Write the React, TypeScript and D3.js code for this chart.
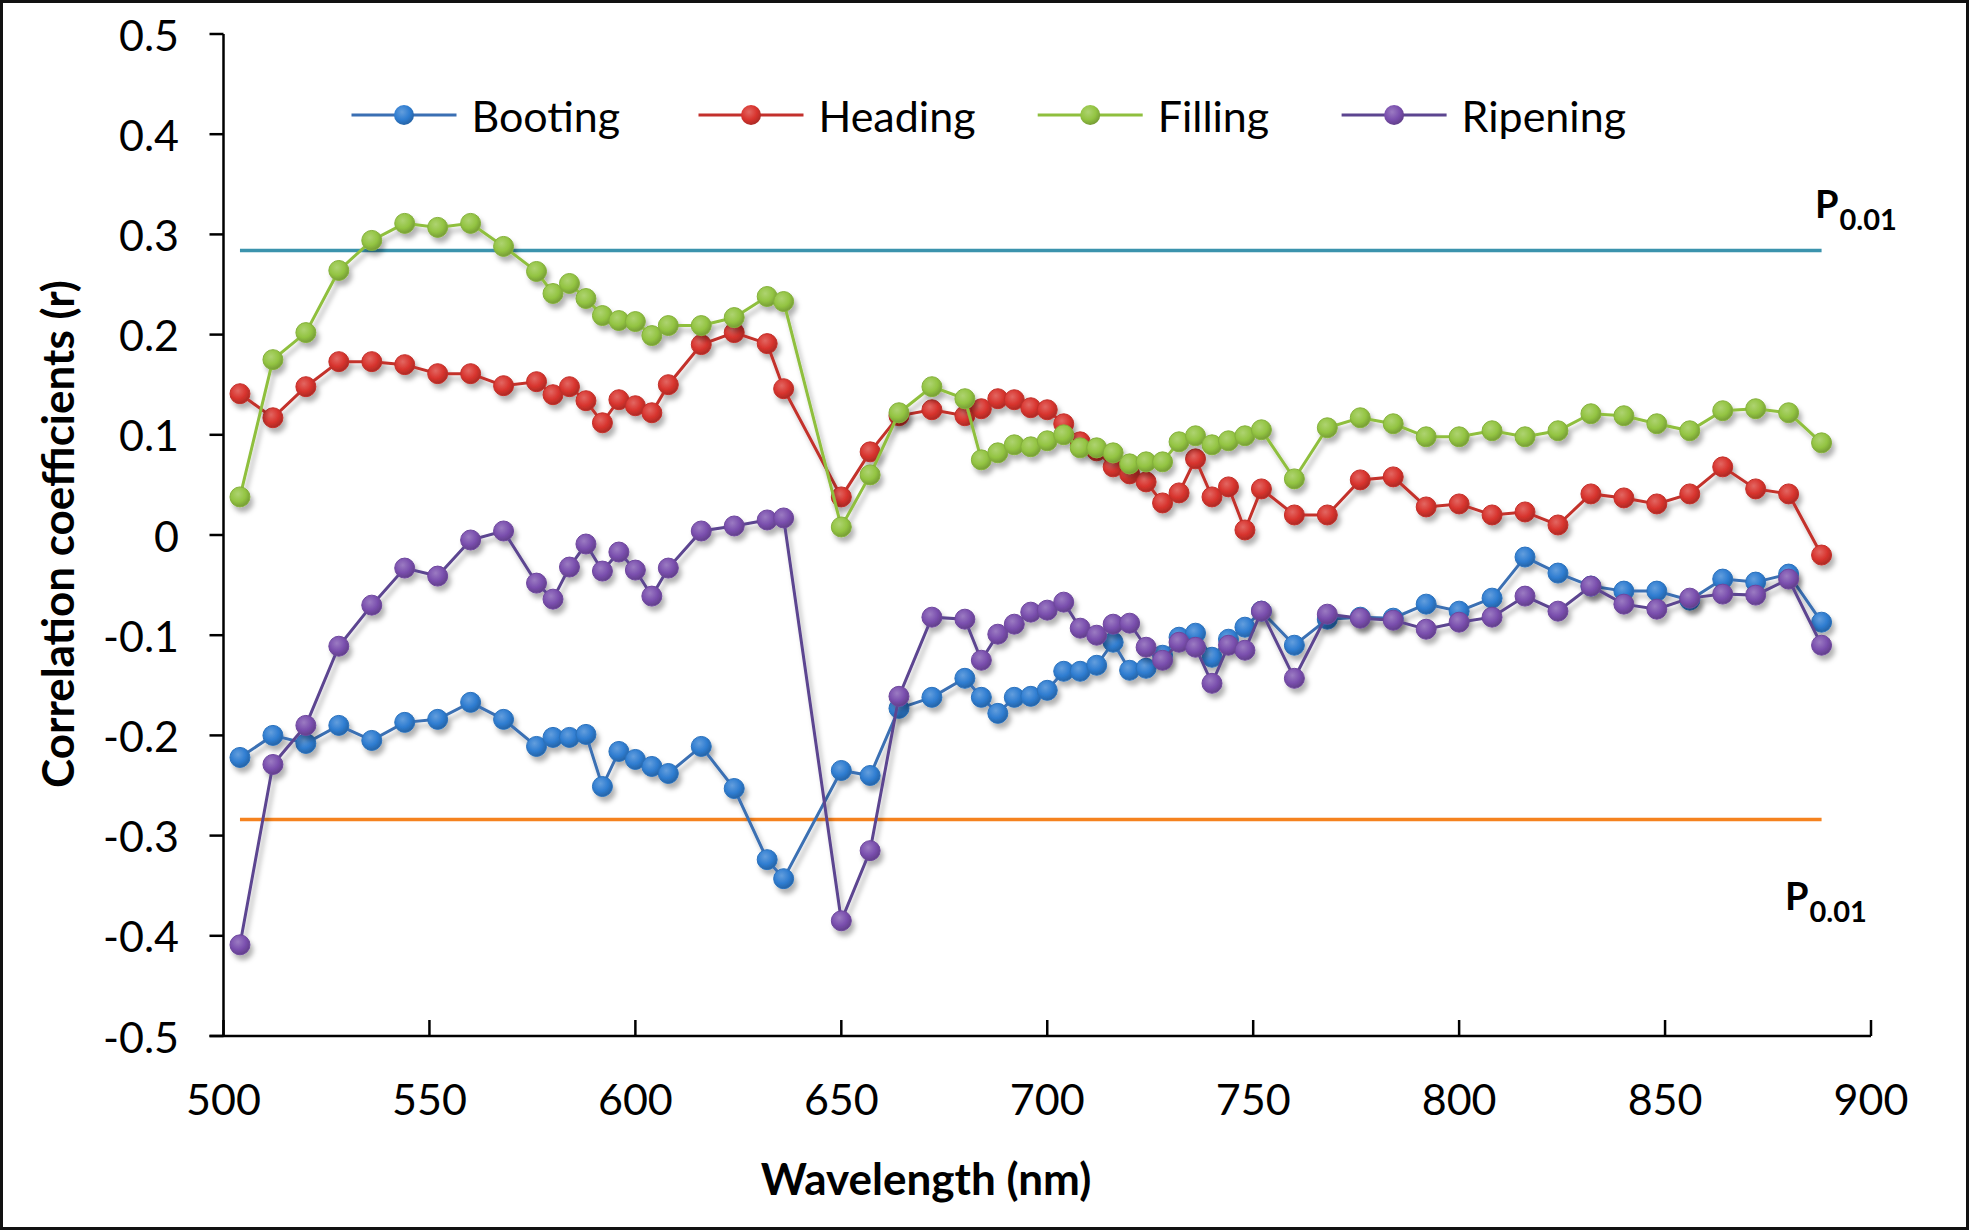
import React from 'react';
import * as d3 from 'd3';

const wavelengths = [504, 512, 520, 528, 536, 544, 552, 560, 568, 576, 580, 584, 588, 592, 596, 600, 604, 608, 616, 624, 632, 636, 650, 657, 664, 672, 680, 684, 688, 692, 696, 700, 704, 708, 712, 716, 720, 724, 728, 732, 736, 740, 744, 748, 752, 760, 768, 776, 784, 792, 800, 808, 816, 824, 832, 840, 848, 856, 864, 872, 880, 888];

const booting = [-0.222, -0.2, -0.208, -0.19, -0.205, -0.187, -0.184, -0.167, -0.184, -0.211, -0.202, -0.202, -0.199, -0.251, -0.216, -0.224, -0.231, -0.238, -0.211, -0.253, -0.324, -0.343, -0.235, -0.24, -0.173, -0.162, -0.143, -0.162, -0.178, -0.162, -0.161, -0.155, -0.136, -0.136, -0.13, -0.107, -0.135, -0.133, -0.12, -0.102, -0.098, -0.122, -0.104, -0.092, -0.076, -0.11, -0.084, -0.082, -0.083, -0.069, -0.076, -0.063, -0.022, -0.038, -0.051, -0.056, -0.056, -0.065, -0.044, -0.047, -0.039, -0.087];

const heading = [0.141, 0.117, 0.148, 0.173, 0.173, 0.17, 0.161, 0.161, 0.149, 0.153, 0.14, 0.148, 0.134, 0.112, 0.135, 0.129, 0.122, 0.15, 0.19, 0.202, 0.191, 0.146, 0.038, 0.083, 0.119, 0.125, 0.119, 0.126, 0.136, 0.135, 0.127, 0.125, 0.111, 0.093, 0.084, 0.068, 0.061, 0.053, 0.032, 0.042, 0.076, 0.038, 0.048, 0.005, 0.046, 0.02, 0.02, 0.055, 0.058, 0.028, 0.031, 0.02, 0.023, 0.01, 0.041, 0.037, 0.031, 0.041, 0.068, 0.046, 0.041, -0.02];

const filling = [0.038, 0.175, 0.202, 0.264, 0.294, 0.311, 0.307, 0.311, 0.288, 0.263, 0.241, 0.251, 0.236, 0.219, 0.214, 0.213, 0.199, 0.209, 0.209, 0.217, 0.238, 0.233, 0.008, 0.06, 0.122, 0.148, 0.136, 0.075, 0.082, 0.09, 0.088, 0.094, 0.1, 0.087, 0.087, 0.082, 0.071, 0.073, 0.073, 0.093, 0.099, 0.09, 0.094, 0.099, 0.105, 0.056, 0.107, 0.117, 0.111, 0.098, 0.098, 0.104, 0.098, 0.104, 0.121, 0.119, 0.111, 0.104, 0.124, 0.126, 0.122, 0.092];

const ripening = [-0.409, -0.229, -0.19, -0.111, -0.07, -0.033, -0.041, -0.005, 0.004, -0.048, -0.064, -0.032, -0.009, -0.036, -0.017, -0.035, -0.061, -0.033, 0.004, 0.009, 0.015, 0.017, -0.385, -0.315, -0.161, -0.082, -0.084, -0.125, -0.099, -0.089, -0.077, -0.075, -0.067, -0.093, -0.1, -0.089, -0.088, -0.112, -0.125, -0.107, -0.112, -0.148, -0.11, -0.115, -0.076, -0.143, -0.079, -0.083, -0.085, -0.094, -0.087, -0.082, -0.061, -0.076, -0.051, -0.069, -0.074, -0.063, -0.059, -0.06, -0.044, -0.11];

const seriesNames = ['Booting', 'Heading', 'Filling', 'Ripening'];
const seriesValues = [booting, heading, filling, ripening];
const lineColors = ['#3a6fb3', '#c3302c', '#8fbf3e', '#5c4590'];
const markerColors = ['#2f7dd1', '#d8342e', '#93c442', '#7a4fae'];

const yTicks = [-0.5, -0.4, -0.3, -0.2, -0.1, 0, 0.1, 0.2, 0.3, 0.4, 0.5];
const yTickLabels = ['-0.5', '-0.4', '-0.3', '-0.2', '-0.1', '0', '0.1', '0.2', '0.3', '0.4', '0.5'];
const xTicks = [500, 550, 600, 650, 700, 750, 800, 850, 900];
const pThreshold = 0.284;

const FONT = 'Lato, "Open Sans", sans-serif';

export default function App() {
  const W = 1969;
  const H = 1230;
  const x = d3.scaleLinear().domain([500, 900]).range([223.5, 1871]);
  const y = d3.scaleLinear().domain([-0.5, 0.5]).range([1036, 34]);
  const line = d3
    .line<[number, number]>()
    .x((d) => x(d[0]))
    .y((d) => y(d[1]));

  const legendX = [351.5, 698.5, 1037.7, 1341.6];
  const legendY = 115;

  const xStart = x(wavelengths[0]);
  const xEnd = x(wavelengths[wavelengths.length - 1]);

  return (
    <svg
      width={W}
      height={H}
      viewBox={`0 0 ${W} ${H}`}
      style={{ position: 'absolute', left: 0, top: 0, background: '#fff' }}
    >
      <defs>
        <filter id="shadow" x="-20%" y="-20%" width="140%" height="140%">
          <feDropShadow dx="3" dy="5" stdDeviation="2.5" floodColor="#000" floodOpacity="0.3" />
        </filter>
        <filter id="lineShadow" x="-5%" y="-200%" width="110%" height="500%">
          <feGaussianBlur stdDeviation="2" />
        </filter>
        {markerColors.map((c, i) => (
          <radialGradient key={i} id={`mg${i}`} cx="40%" cy="35%" r="65%">
            <stop offset="0%" stopColor={d3.interpolateRgb(c, '#ffffff')(0.25)} />
            <stop offset="60%" stopColor={c} />
            <stop offset="100%" stopColor={d3.interpolateRgb(c, '#000000')(0.2)} />
          </radialGradient>
        ))}
      </defs>
      <rect x={0} y={0} width={W} height={H} fill="#fff" />
      <rect x={1.5} y={1.5} width={W - 3} height={H - 3} fill="none" stroke="#111" strokeWidth={3} />

      {/* threshold lines */}
      {[pThreshold, -pThreshold].map((v, i) => (
        <g key={i}>
          <line
            x1={xStart}
            x2={xEnd}
            y1={y(v) + 9}
            y2={y(v) + 9}
            stroke="#c8c8c8"
            strokeWidth={7}
            filter="url(#lineShadow)"
            opacity={0.8}
          />
          <line
            x1={xStart}
            x2={xEnd}
            y1={y(v)}
            y2={y(v)}
            stroke={i === 0 ? '#3b93ad' : '#f5821f'}
            strokeWidth={3.5}
          />
        </g>
      ))}

      {/* series */}
      {seriesValues.map((vals, si) => {
        const pts = wavelengths.map((w, k) => [w, vals[k]] as [number, number]);
        return (
          <g key={si} filter="url(#shadow)">
            <path d={line(pts) || ''} fill="none" stroke={lineColors[si]} strokeWidth={3} />
            {pts.map((p, k) => (
              <circle
                key={k}
                cx={x(p[0])}
                cy={y(p[1])}
                r={10}
                fill={`url(#mg${si})`}
                stroke={d3.interpolateRgb(markerColors[si], '#000')(0.1)}
                strokeWidth={1}
              />
            ))}
          </g>
        );
      })}

      {/* axes */}
      <line x1={x(500)} x2={x(500)} y1={y(0.5)} y2={y(-0.5)} stroke="#000" strokeWidth={2.5} />
      <line x1={x(500) - 14} x2={x(900)} y1={y(-0.5)} y2={y(-0.5)} stroke="#000" strokeWidth={2.5} />
      {yTicks.map((t, i) => (
        <g key={t}>
          <line x1={x(500) - 14} x2={x(500)} y1={y(t)} y2={y(t)} stroke="#000" strokeWidth={2.5} />
          <text
            x={179}
            y={y(t)}
            textAnchor="end"
            dominantBaseline="central"
            fontFamily={FONT}
            fontSize={43}
            fill="#000"
          >
            {yTickLabels[i]}
          </text>
        </g>
      ))}
      {xTicks.map((t) => (
        <g key={t}>
          <line x1={x(t)} x2={x(t)} y1={y(-0.5)} y2={y(-0.5) - 16} stroke="#000" strokeWidth={2.5} />
          <text x={x(t)} y={1115} textAnchor="middle" fontFamily={FONT} fontSize={43} fill="#000">
            {t}
          </text>
        </g>
      ))}

      {/* axis titles */}
      <text x={926} y={1195} textAnchor="middle" fontFamily={FONT} fontWeight="bold" fontSize={44} fill="#000">
        Wavelength (nm)
      </text>
      <text
        transform={`translate(57, ${534}) rotate(-90)`}
        textAnchor="middle"
        dominantBaseline="central"
        fontFamily={FONT}
        fontWeight="bold"
        fontSize={44}
        fill="#000"
      >
        Correlation coefficients (r)
      </text>

      {/* legend */}
      {seriesNames.map((n, i) => (
        <g key={n}>
          <line
            x1={legendX[i]}
            x2={legendX[i] + 105}
            y1={legendY}
            y2={legendY}
            stroke={lineColors[i]}
            strokeWidth={3}
          />
          <circle cx={legendX[i] + 52.5} cy={legendY} r={10} fill={`url(#mg${i})`} />
          <text
            x={legendX[i] + 120}
            y={legendY}
            dominantBaseline="central"
            fontFamily={FONT}
            fontSize={43}
            fill="#000"
          >
            {n}
          </text>
        </g>
      ))}

      {/* P labels */}
      <text x={1815} y={218} fontFamily={FONT} fontWeight="bold" fontSize={38} fill="#000">
        P
        <tspan dx={1} dy={12} fontSize={29}>
          0.01
        </tspan>
      </text>
      <text x={1785} y={910} fontFamily={FONT} fontWeight="bold" fontSize={38} fill="#000">
        P
        <tspan dx={1} dy={12} fontSize={29}>
          0.01
        </tspan>
      </text>
    </svg>
  );
}
